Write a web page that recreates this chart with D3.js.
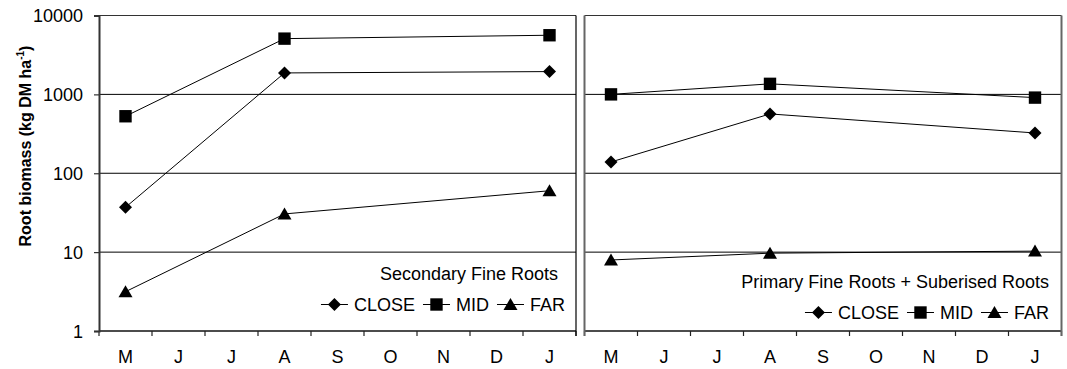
<!DOCTYPE html>
<html>
<head>
<meta charset="utf-8">
<script src="https://cdn.jsdelivr.net/npm/d3@7"></script>
<style>
  html, body { margin: 0; padding: 0; background: #fff; }
  svg { display: block; }
  text { font-family: "Liberation Sans", Arial, Helvetica, sans-serif; fill: #000; }
</style>
</head>
<body>
<svg id="chart" width="1067" height="369"></svg>
<script>
// Months along the x axis (keys are unique, labels are what is shown)
const monthKeys = ["May", "Jun", "Jul", "Aug", "Sep", "Oct", "Nov", "Dec", "Jan"];
const monthLabels = ["M", "J", "J", "A", "S", "O", "N", "D", "J"];
// Sampling dates
const sampleMonths = ["May", "Aug", "Jan"];

// Root biomass (kg DM ha-1), secondary fine roots
const secondaryClose = [37, 1870, 1945];
const secondaryMid = [528, 5090, 5620];
const secondaryFar = [3.15, 30.5, 60];

// Root biomass (kg DM ha-1), primary fine roots + suberised roots
const primaryClose = [139, 565, 324];
const primaryMid = [1000, 1360, 910];
const primaryFar = [7.95, 9.7, 10.3];

const yTicks = [1, 10, 100, 1000, 10000];
const seriesNames = ["CLOSE", "MID", "FAR"];
const seriesShapes = ["diamond", "square", "triangle"];

const svg = d3.select("#chart");
const plotTop = 15.5, plotBottom = 331;

const y = d3.scaleLog().domain([1, 10000]).range([plotBottom, plotTop]);

function markerPath(shape) {
  if (shape === "diamond") return "M0,-6.5L6.5,0L0,6.5L-6.5,0Z";
  if (shape === "square") return "M-6.2,-6.2H6.2V6.2H-6.2Z";
  return "M0,-6.5L7,5.5H-7Z";
}

function drawPanel(opts) {
  const { left, right, series, title, titleY, titleRight, legendY, legendRight, yAxis } = opts;
  const x = d3.scaleBand().domain(monthKeys).range([left, right]).padding(0);
  const cx = k => x(k) + x.bandwidth() / 2;
  const g = svg.append("g");

  // horizontal gridlines at each decade
  g.selectAll("line.grid")
    .data(yTicks.slice(1, 4))
    .join("line")
    .attr("x1", left).attr("x2", right)
    .attr("y1", d => y(d)).attr("y2", d => y(d))
    .attr("stroke", "#000").attr("stroke-width", 1);

  // top frame line
  g.append("line").attr("x1", left).attr("x2", right)
    .attr("y1", y(10000)).attr("y2", y(10000))
    .attr("stroke", "#333").attr("stroke-width", 1.2);

  // x axis: category labels centred in each band
  const xAxis = d3.axisBottom(x)
    .tickFormat((d, i) => monthLabels[i])
    .tickSize(0).tickPadding(19);
  const ax = g.append("g").attr("transform", `translate(0,${plotBottom})`).call(xAxis);
  ax.select(".domain").remove();
  ax.selectAll("text").attr("font-size", 18).attr("font-family", "Liberation Sans, Arial, sans-serif").attr("fill", "#000");

  // x axis line and tick marks on band boundaries
  g.append("line").attr("x1", left).attr("x2", right)
    .attr("y1", plotBottom).attr("y2", plotBottom)
    .attr("stroke", "#111").attr("stroke-width", 1.4);
  const edges = monthKeys.map(k => x(k)).concat([right]);
  g.selectAll("line.xtick")
    .data(edges)
    .join("line")
    .attr("x1", d => d).attr("x2", d => d)
    .attr("y1", plotBottom).attr("y2", plotBottom + 5)
    .attr("stroke", "#222").attr("stroke-width", 1.2);

  // vertical frame sides
  if (yAxis) {
    const axis = d3.axisLeft(y).tickValues(yTicks).tickFormat(d3.format("d")).tickSize(5).tickPadding(11);
    const ya = g.append("g").attr("transform", `translate(${left},0)`).call(axis);
    ya.select(".domain").attr("stroke", "#333").attr("stroke-width", 2);
    ya.selectAll(".tick line").attr("stroke", "#333").attr("stroke-width", 1.2);
    ya.selectAll("text").attr("font-size", 18).attr("font-family", "Liberation Sans, Arial, sans-serif").attr("fill", "#000").attr("dy", "0.36em");
    g.append("line").attr("x1", right).attr("x2", right)
      .attr("y1", plotTop).attr("y2", plotBottom + 5)
      .attr("stroke", "#000").attr("stroke-width", 1.2);
  } else {
    g.append("line").attr("x1", left).attr("x2", left)
      .attr("y1", plotTop).attr("y2", plotBottom + 5)
      .attr("stroke", "#666").attr("stroke-width", 2);
    g.append("line").attr("x1", right).attr("x2", right)
      .attr("y1", plotTop).attr("y2", plotBottom + 5)
      .attr("stroke", "#666").attr("stroke-width", 2);
  }

  // series lines and markers
  const line = d3.line().x(d => cx(d.m)).y(d => y(d.v));
  series.forEach((vals, si) => {
    const pts = vals.map((v, i) => ({ m: sampleMonths[i], v }));
    g.append("path").datum(pts).attr("d", line)
      .attr("fill", "none").attr("stroke", "#000").attr("stroke-width", 1);
    g.selectAll(null).data(pts).join("path")
      .attr("d", markerPath(seriesShapes[si]))
      .attr("transform", d => `translate(${cx(d.m)},${y(d.v)})`)
      .attr("fill", "#000");
  });

  // panel title
  g.append("text").attr("x", titleRight).attr("y", titleY)
    .attr("text-anchor", "end").attr("font-size", 18).text(title);

  // legend row, laid out right to left from the measured text widths
  const leg = g.append("g");
  const items = seriesNames.map((n, i) => ({ n, shape: seriesShapes[i] }));
  const texts = items.map(it => leg.append("text").attr("y", legendY).attr("font-size", 18).text(it.n));
  const widths = texts.map(t => t.node().getComputedTextLength());
  const gap = 8, sym = 27, txtGap = 6;
  let xr = legendRight;
  for (let i = items.length - 1; i >= 0; i--) {
    const tx = xr - widths[i];
    texts[i].attr("x", tx);
    const sx1 = tx - txtGap, sx0 = sx1 - sym, sc = (sx0 + sx1) / 2;
    const my = legendY - 6.5;
    leg.append("line").attr("x1", sx0).attr("x2", sx1).attr("y1", my).attr("y2", my)
      .attr("stroke", "#000").attr("stroke-width", 1);
    leg.append("path").attr("d", markerPath(items[i].shape))
      .attr("transform", `translate(${sc},${my})`).attr("fill", "#000");
    xr = sx0 - gap;
  }
}

drawPanel({
  left: 99, right: 576, yAxis: true,
  series: [secondaryClose, secondaryMid, secondaryFar],
  title: "Secondary Fine Roots", titleY: 280, titleRight: 558, legendY: 311, legendRight: 565
});

drawPanel({
  left: 584.5, right: 1061.5, yAxis: false,
  series: [primaryClose, primaryMid, primaryFar],
  title: "Primary Fine Roots + Suberised Roots", titleY: 288, titleRight: 1049, legendY: 319, legendRight: 1049
});

// y-axis title
const yTitle = svg.append("text")
  .attr("transform", "translate(31,146) rotate(-90)")
  .attr("text-anchor", "middle")
  .attr("font-size", 16).attr("font-weight", "bold");
yTitle.append("tspan").text("Root biomass (kg DM ha");
yTitle.append("tspan").attr("font-size", 10).attr("dy", -7).text("-1");
yTitle.append("tspan").attr("dy", 7).text(")");
</script>
</body>
</html>
